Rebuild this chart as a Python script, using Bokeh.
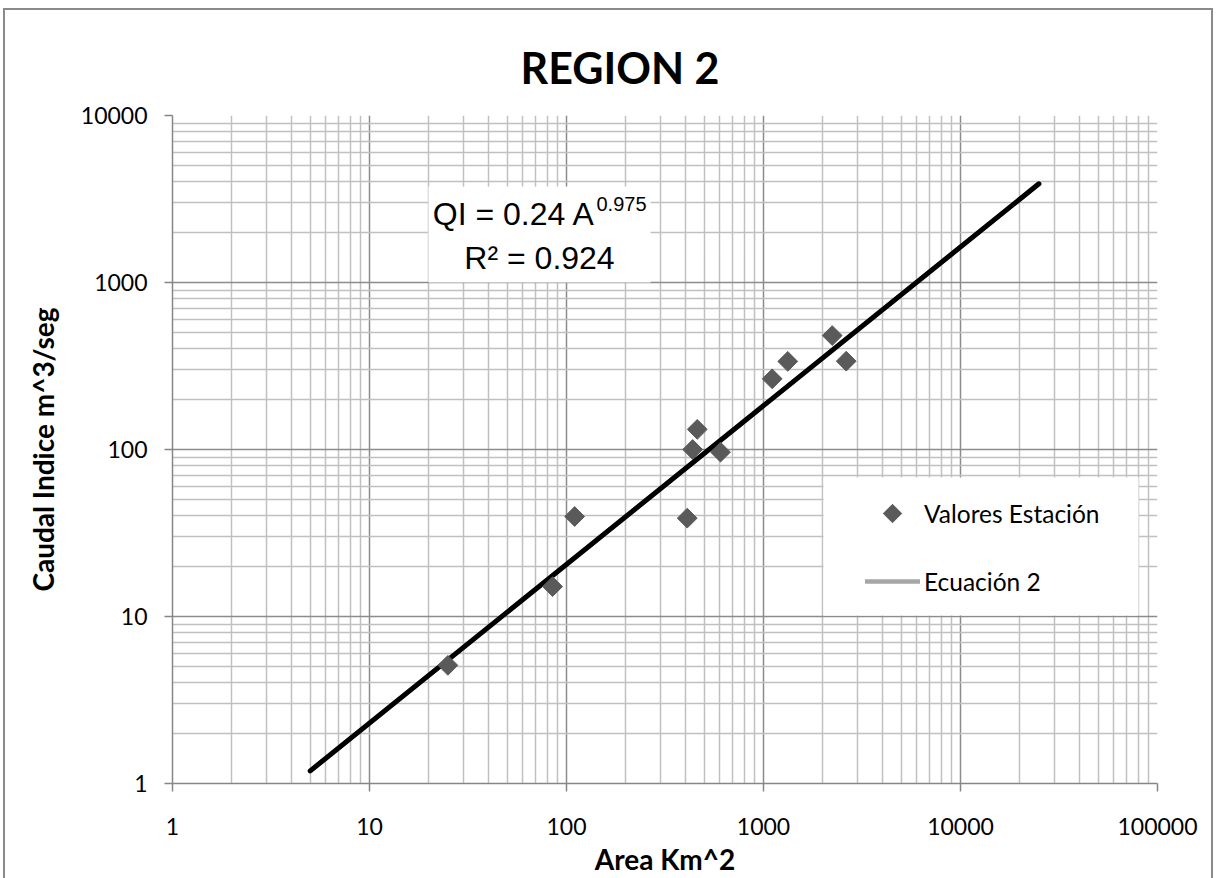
import math
from bokeh.plotting import figure
from bokeh.models import (Range1d, FixedTicker, NumeralTickFormatter, Legend, LegendItem,
                          BoxAnnotation, Label)
from bokeh.embed import file_html
from bokeh.resources import INLINE

# ---- data ----
area_km2 = [25, 85, 110, 410, 437, 461, 605, 1107, 1328, 2233, 2630]
caudal_indice = [5.1, 15.1, 39.7, 38.8, 100, 132, 96.4, 265, 337, 481, 338]
trend_area = [5, 25000]
trend_caudal = [1.19, 3900]
x_major = [1, 10, 100, 1000, 10000, 100000]
y_major = [1, 10, 100, 1000, 10000]
title_text = "REGION 2"
x_label = "Area Km^2"
y_label = "Caudal Indice m^3/seg"
series_names = ["Valores Estación", "Ecuación 2"]
eq_main = "QI = 0.24 A"
eq_exp = "0.975"
eq_r2 = "R² = 0.924"


def minors(majors):
    return [m * k for m in majors[:-1] for k in range(2, 10)]


FONT = "Lato"
EQ_FONT = "Liberation Sans"
FW, FH = 985, 668
POINT_COLOR = "#5A5A5A"

p = figure(x_axis_type="log", y_axis_type="log",
           x_range=Range1d(x_major[0], x_major[-1]), y_range=Range1d(y_major[0], y_major[-1]),
           frame_width=FW, frame_height=FH,
           min_border_left=172, min_border_right=57, min_border_top=115, min_border_bottom=92,
           output_backend="svg", toolbar_location=None)
p.outline_line_color = None
p.background_fill_color = "white"
p.border_fill_alpha = 0
p.styles = {"box-shadow": ("inset 3px 0 0 0 white, inset 0 8px 0 0 white, inset -1px 0 0 0 white, "
                           "inset 5px 0 0 0 #8a8a8a, inset 0 10px 0 0 #8a8a8a, inset -3px 0 0 0 #8a8a8a"),
            "background-color": "white"}


def screen_to_data(sx, sy):
    """frame-relative screen px (y up) -> data coordinates on the log axes"""
    lx = math.log10(x_major[0]) + sx / FW * (math.log10(x_major[-1]) - math.log10(x_major[0]))
    ly = math.log10(y_major[0]) + sy / FH * (math.log10(y_major[-1]) - math.log10(y_major[0]))
    return 10 ** lx, 10 ** ly


# title
p.title.text = title_text
p.title.align = "left"
p.title.offset = 348
p.title.text_font = FONT
p.title.text_font_style = "bold"
p.title.text_font_size = "43px"
p.title.text_color = "#000000"
p.title.standoff = 46

xt = FixedTicker(ticks=x_major, minor_ticks=minors(x_major))
yt = FixedTicker(ticks=y_major, minor_ticks=minors(y_major))
p.xaxis[0].ticker = xt
p.yaxis[0].ticker = yt
p.xgrid[0].ticker = xt
p.ygrid[0].ticker = yt

for ax in (p.xaxis[0], p.yaxis[0]):
    ax.axis_line_color = "#868686"
    ax.axis_line_width = 1.5
    ax.major_tick_line_color = "#868686"
    ax.major_tick_line_width = 1.5
    ax.major_tick_out = 8
    ax.major_tick_in = 0
    ax.minor_tick_line_color = None
    ax.major_label_text_font = FONT
    ax.major_label_text_font_size = "23px"
    ax.major_label_text_color = "#000000"
    ax.formatter = NumeralTickFormatter(format="0")
    ax.axis_label_text_font = FONT
    ax.axis_label_text_font_style = "bold"
    ax.axis_label_text_font_size = "28px"
    ax.axis_label_text_color = "#000000"

p.yaxis[0].major_label_standoff = 17
p.xaxis[0].major_label_standoff = 26
p.xaxis[0].axis_label = x_label
p.xaxis[0].axis_label_standoff = 4
p.yaxis[0].axis_label = y_label
p.yaxis[0].axis_label_standoff = 18

for g in (p.xgrid[0], p.ygrid[0]):
    g.grid_line_color = "#8C8C8C"
    g.grid_line_width = 1.5
    g.minor_grid_line_color = "#C0C0C0"
    g.minor_grid_line_width = 1.5

# white boxes (drawn just above the grid, below the glyphs)
p.add_layout(BoxAnnotation(left=651, right=966, top=306, bottom=168,
                           left_units="screen", right_units="screen",
                           top_units="screen", bottom_units="screen",
                           fill_color="white", fill_alpha=1, line_color=None, level="underlay"))
p.add_layout(BoxAnnotation(left=256, right=478, top=597, bottom=501,
                           left_units="screen", right_units="screen",
                           top_units="screen", bottom_units="screen",
                           fill_color="white", fill_alpha=1, line_color=None, level="underlay"))

# ---- glyphs ----
eq_line = p.line(trend_area, trend_caudal, line_color="#A6A6A6", line_width=4.5, line_cap="round")
p.line(trend_area, trend_caudal, line_color="black", line_width=5, line_cap="round")
pts = p.scatter(area_km2, caudal_indice, marker="square", size=14, angle=math.pi / 4,
                fill_color=POINT_COLOR, line_color=POINT_COLOR)
# invisible stand-in used by the legend entry; its diamond swatch is drawn separately
pts_legend = p.scatter(area_km2, caudal_indice, marker="square", size=14,
                       fill_alpha=0, line_alpha=0)
sw_x, sw_y = screen_to_data(892 - 172, 783 - 513)
p.scatter([sw_x], [sw_y], marker="square", size=13, angle=math.pi / 4,
          fill_color=POINT_COLOR, line_color=POINT_COLOR)

# ---- legend ----
legend = Legend(items=[LegendItem(label=series_names[0], renderers=[pts_legend]),
                       LegendItem(label=series_names[1], renderers=[eq_line])],
                location=(693, 187), orientation="vertical", padding=0, margin=0,
                spacing=38, glyph_width=55, glyph_height=30, label_height=30,
                label_standoff=4, background_fill_alpha=0, border_line_color=None,
                label_text_font=FONT, label_text_font_size="24.5px",
                label_text_color="#000000")
p.add_layout(legend)

# ---- equation ----
p.add_layout(Label(x=423, y=570, x_units="screen", y_units="screen", text=eq_main,
                   text_align="right", text_baseline="alphabetic",
                   text_font=EQ_FONT, text_font_size="32px", text_color="#000000"))
p.add_layout(Label(x=424, y=580, x_units="screen", y_units="screen", text=eq_exp,
                   text_align="left", text_baseline="alphabetic",
                   text_font=EQ_FONT, text_font_size="20px", text_color="#000000"))
p.add_layout(Label(x=367, y=526, x_units="screen", y_units="screen", text=eq_r2,
                   text_align="center", text_baseline="alphabetic",
                   text_font=EQ_FONT, text_font_size="32px", text_color="#000000"))

open("out.html", "w").write(file_html(p, INLINE))
